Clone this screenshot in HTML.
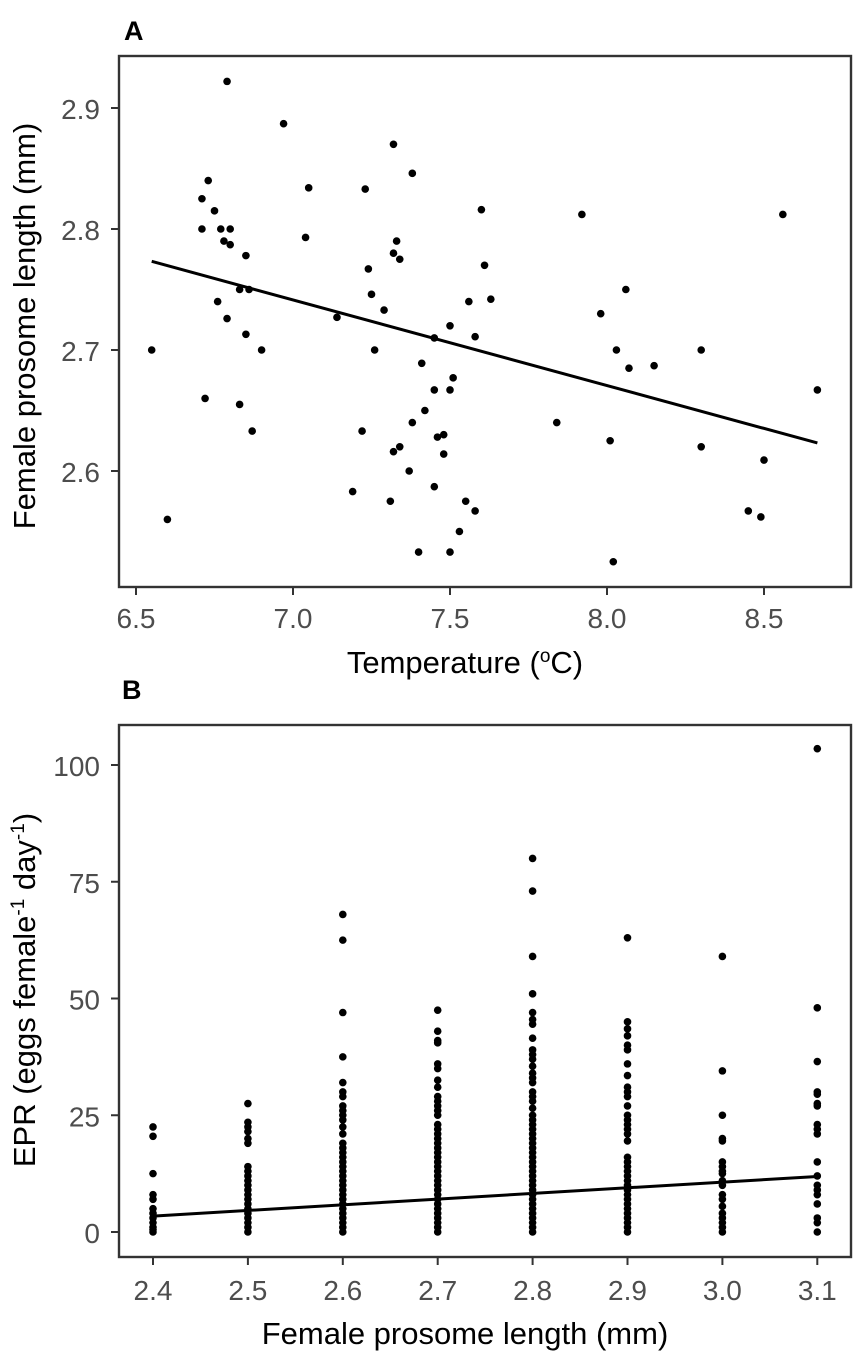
<!DOCTYPE html>
<html><head><meta charset="utf-8"><style>
html,body{margin:0;padding:0;background:#fff;width:855px;height:1352px;overflow:hidden}
svg{display:block}
text{font-family:"Liberation Sans",sans-serif}
</style></head><body>
<svg id="fig" width="855" height="1352" viewBox="0 0 855 1352" xmlns="http://www.w3.org/2000/svg">
<text x="124" y="40" font-size="27" font-weight="bold" fill="#000">A</text>
<text x="122" y="699" font-size="27" font-weight="bold" fill="#000">B</text>
<g id="pa"></g>
<g id="pb"></g>
<text x="465" y="673" font-size="31" text-anchor="middle" fill="#000">Temperature (<tspan font-size="19" dy="-11">o</tspan><tspan dy="11">C)</tspan></text>
<text transform="translate(35,326) rotate(-90)" font-size="31" text-anchor="middle" fill="#000">Female prosome length (mm)</text>
<text x="465" y="1344" font-size="31" text-anchor="middle" fill="#000">Female prosome length (mm)</text>
<text transform="translate(35,990) rotate(-90)" font-size="31" text-anchor="middle" fill="#000">EPR (eggs female<tspan font-size="19" dy="-11">-1</tspan><tspan dy="11"> day</tspan><tspan font-size="19" dy="-11">-1</tspan><tspan dy="11">)</tspan></text>
</svg>
<script>
// Panel A data
const aTemp = [6.55,6.60,6.71,6.71,6.73,6.75,6.72,6.77,6.80,6.78,6.80,6.79,6.76,6.79,6.85,6.83,6.86,6.85,6.90,6.83,6.87,6.97,7.05,7.04,7.14,7.19,7.23,7.24,7.25,7.26,7.22,7.29,7.31,7.32,7.34,7.32,7.33,7.32,7.34,7.38,7.37,7.38,7.40,7.41,7.42,7.45,7.45,7.45,7.46,7.48,7.48,7.50,7.51,7.50,7.50,7.53,7.55,7.56,7.58,7.58,7.60,7.61,7.63,7.84,7.92,7.98,8.01,8.03,8.02,8.06,8.07,8.15,8.30,8.30,8.45,8.49,8.50,8.56,8.67];
const aLen = [2.70,2.56,2.825,2.80,2.84,2.815,2.66,2.80,2.80,2.79,2.787,2.922,2.74,2.726,2.778,2.75,2.75,2.713,2.70,2.655,2.633,2.887,2.834,2.793,2.727,2.583,2.833,2.767,2.746,2.70,2.633,2.733,2.575,2.616,2.62,2.87,2.79,2.78,2.775,2.846,2.60,2.64,2.533,2.689,2.65,2.71,2.667,2.587,2.628,2.63,2.614,2.72,2.677,2.667,2.533,2.55,2.575,2.74,2.567,2.711,2.816,2.77,2.742,2.64,2.812,2.730,2.625,2.70,2.525,2.75,2.685,2.687,2.70,2.62,2.567,2.562,2.609,2.812,2.667];
const aXTicks = [6.5,7.0,7.5,8.0,8.5];
const aYTicks = [2.6,2.7,2.8,2.9];
const aFit = [6.55, 8.67];
const aSlope = -0.0708, aIntercept = 3.237;

// Panel B data
const bCats = [2.4,2.5,2.6,2.7,2.8,2.9,3.0,3.1];
const bEPR = [
 [22.5,20.5,12.5,8,7,5,4,3,2,1,0.5,0],
 [27.5,23.5,22.5,21.5,20,19,14,13,12,11,10,9,8,7,6,5,4,3,2,1,0],
 [68,62.5,47,37.5,32,30,29,27,26,25,24,22.5,21,19,18,17,16,15,14,13,12,11,10,9,8,7,6,5,4,3,2,1,0],
 [47.5,43,41,40.5,36,35,32.5,31,29,28,27,26,25,23,22,21,20,19,18,17,16,15,14,13,12,11,10,9,8,7,6,5,4,3,2,1,0],
 [80,73,59,51,47,45.5,44.5,41.5,39,38,37,35.5,34,33,32,30,29,28,26.5,25,24,23,22,21,20,19,18,17,16,15,14,13,12,11,10,9,8,7,6,5,4,3,2,1,0],
 [63,45,43.5,42,40,39,36,33.5,31,30,29,27,25,24,23,22,21,19.5,16,15,14,13,12,11,10,9,8,7,6,5,4,3,2,1,0],
 [59,34.5,25,20,19.5,15,14,13,12.5,11,10,8,7,5.5,4,3,2,1,0],
 [103.5,48,36.5,30,29.5,27.5,27,23,22,21,15,12,10,9,8,6,3,2,0]
];
const bXTicks = ["2.4","2.5","2.6","2.7","2.8","2.9","3.0","3.1"];
const bYTicks = [0,25,50,75,100];
const bFit = [2.4, 3.1];
const bSlope = 12.14, bIntercept = -25.74;

const NS = "http://www.w3.org/2000/svg";
function mk(tag, attrs, parent){const e=document.createElementNS(NS,tag);for(const k in attrs)e.setAttribute(k,attrs[k]);parent.appendChild(e);return e;}

// Panel A axes
const ax = v => 136 + (v-6.5)*314;
const ay = v => 108 + (2.9-v)*1210;
const pa = document.getElementById('pa');
let r = mk('rect',{x:119,y:56,width:732,height:531,fill:'none',stroke:'#333','stroke-width':2.4},pa);


aXTicks.forEach(t=>{
 let l=mk('line',{x1:ax(t),x2:ax(t),y1:588,y2:595,stroke:'#333','stroke-width':2},pa);
 
 
 let tx=mk('text',{x:ax(t),y:628,'font-size':28,'text-anchor':'middle',fill:'#4d4d4d'},pa);
 tx.textContent=t.toFixed(1);
 
 
});
aYTicks.forEach(t=>{
 let l=mk('line',{x1:111,x2:118,y1:ay(t),y2:ay(t),stroke:'#333','stroke-width':2},pa);
 
 
 let tx=mk('text',{x:100,y:ay(t)+11,'font-size':28,'text-anchor':'end',fill:'#4d4d4d'},pa);
 tx.textContent=t.toFixed(1);
 
 
});
aTemp.forEach((t,i)=>{
 let c=mk('circle',{cx:ax(t),cy:ay(aLen[i]),r:3.8,fill:'#000'},pa);
 
 
});
let fa=mk('line',{x1:ax(aFit[0]),y1:ay(aSlope*aFit[0]+aIntercept),x2:ax(aFit[1]),y2:ay(aSlope*aFit[1]+aIntercept),stroke:'#000','stroke-width':3},pa);



// Panel B axes
const bx = v => 153 + (v-2.4)*949;
const by = v => 1232 - v*4.67;
const pb = document.getElementById('pb');
let rb = mk('rect',{x:119,y:725,width:732,height:532,fill:'none',stroke:'#333','stroke-width':2.4},pb);


bXTicks.forEach(t=>{
 const v=parseFloat(t);
 let l=mk('line',{x1:bx(v),x2:bx(v),y1:1258,y2:1265,stroke:'#333','stroke-width':2},pb);
 
 
 let tx=mk('text',{x:bx(v),y:1300,'font-size':28,'text-anchor':'middle',fill:'#4d4d4d'},pb);
 tx.textContent=t;
 
 
});
bYTicks.forEach(t=>{
 let l=mk('line',{x1:111,x2:118,y1:by(t),y2:by(t),stroke:'#333','stroke-width':2},pb);
 
 
 let tx=mk('text',{x:100,y:by(t)+11,'font-size':28,'text-anchor':'end',fill:'#4d4d4d'},pb);
 tx.textContent=String(t);
 
 
});
bCats.forEach((c,i)=>{
 bEPR[i].forEach(v=>{
  let p=mk('circle',{cx:bx(c),cy:by(v),r:3.8,fill:'#000'},pb);
  
  
 });
});
let fb=mk('line',{x1:bx(bFit[0]),y1:by(bSlope*bFit[0]+bIntercept),x2:bx(bFit[1]),y2:by(bSlope*bFit[1]+bIntercept),stroke:'#000','stroke-width':3},pb);


</script>
</body></html>
